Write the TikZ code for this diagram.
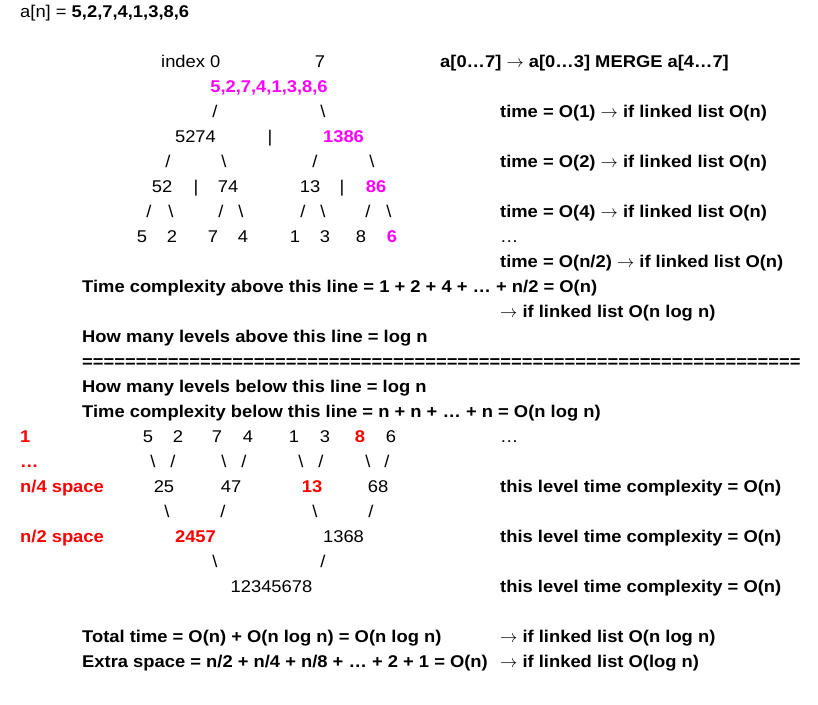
\documentclass[tikz,border=0pt]{standalone}
\usepackage{fontspec}
\setmainfont{Liberation Sans}[FakeStretch=1.08]
\definecolor{hotpink}{HTML}{FF00FF}
\definecolor{hotred}{HTML}{FF0000}
\newcommand{\fs}{\fontsize{17}{20}\selectfont}
\newcommand{\bsl}{\textbackslash}
\newcommand{\goesto}{$\rightarrow$}

\begin{document}
\begin{tikzpicture}[x=1pt, y=-1pt,
    txt/.style={anchor=base west, inner sep=0pt, font=\fs},
    btxt/.style={anchor=base west, inner sep=0pt, font=\fs\bfseries},
    rtxt/.style={anchor=base west, inner sep=0pt, font=\fs\bfseries, text=hotred},
    num/.style={anchor=base, inner sep=0pt, font=\fs},
    pnum/.style={anchor=base, inner sep=0pt, font=\fs\bfseries, text=hotpink},
    rnum/.style={anchor=base, inner sep=0pt, font=\fs\bfseries, text=hotred}
]
\useasboundingbox (0,0) rectangle (818,704);

% header
\node[txt] (arr) at (20,17) {a[n] = \textbf{5,2,7,4,1,3,8,6}};
\node[txt] (idx0) at (161,67) {index 0};
\node[num] (idx7) at (320,67) {7};
\node[btxt] (split) at (440,67) {a[0…7] \goesto{} a[0…3] MERGE a[4…7]};

% splitting tree
\node[pnum] (root) at (269,92) {5,2,7,4,1,3,8,6};
\node[num] (s1) at (215,117) {/};
\node[num] (s2) at (323,117) {\bsl};
\node[num] (L) at (195.5,142) {5274};
\node[num] (bar1) at (270,142) {|};
\node[pnum] (R) at (343.5,142) {1386};
\node[num] (s3) at (168,167) {/};
\node[num] (s4) at (224,167) {\bsl};
\node[num] (s5) at (315,167) {/};
\node[num] (s6) at (372,167) {\bsl};
\node[num] (LL) at (162,192) {52};
\node[num] (bar2) at (196,192) {|};
\node[num] (LR) at (228,192) {74};
\node[num] (RL) at (310,192) {13};
\node[num] (bar3) at (342,192) {|};
\node[pnum] (RR) at (376,192) {86};
\node[num] at (149,217) {/};
\node[num] at (171,217) {\bsl};
\node[num] at (221,217) {/};
\node[num] at (241,217) {\bsl};
\node[num] at (303,217) {/};
\node[num] at (323,217) {\bsl};
\node[num] at (368,217) {/};
\node[num] at (389,217) {\bsl};
\node[num] (a1) at (142,242) {5};
\node[num] (a2) at (172,242) {2};
\node[num] (a3) at (213,242) {7};
\node[num] (a4) at (243,242) {4};
\node[num] (a5) at (295,242) {1};
\node[num] (a6) at (325,242) {3};
\node[num] (a7) at (361,242) {8};
\node[pnum] (a8) at (392,242) {6};

% split costs
\node[btxt] (t1) at (500,117) {time = O(1) \goesto{} if linked list O(n)};
\node[btxt] (t2) at (500,167) {time = O(2) \goesto{} if linked list O(n)};
\node[btxt] (t4) at (500,217) {time = O(4) \goesto{} if linked list O(n)};
\node[txt] (tdots) at (500,242) {…};
\node[btxt] (tn) at (500,267) {time = O(n/2) \goesto{} if linked list O(n)};
\node[btxt] (above) at (82,292) {Time complexity above this line = 1 + 2 + 4 + … + n/2 = O(n)};
\node[btxt] (abovell) at (500,317) {\goesto{} if linked list O(n log n)};
\node[btxt] (lvabove) at (82,342) {How many levels above this line = log n};
\node[btxt] (rule) at (82,367) {===================================================================};
\node[btxt] (lvbelow) at (82,392) {How many levels below this line = log n};
\node[btxt] (below) at (82,417) {Time complexity below this line = n + n + … + n = O(n log n)};

% merging tree
\node[rtxt] (sp1) at (20,442) {1};
\node[num] (b1) at (148,442) {5};
\node[num] (b2) at (178,442) {2};
\node[num] (b3) at (217,442) {7};
\node[num] (b4) at (248,442) {4};
\node[num] (b5) at (294,442) {1};
\node[num] (b6) at (325,442) {3};
\node[rnum] (b7) at (360,442) {8};
\node[num] (b8) at (391,442) {6};
\node[txt] (mdots) at (500,442) {…};
\node[rtxt] (spdots) at (20,467) {…};
\node[num] at (153,467) {\bsl};
\node[num] at (173,467) {/};
\node[num] at (224,467) {\bsl};
\node[num] at (244,467) {/};
\node[num] at (301,467) {\bsl};
\node[num] at (321,467) {/};
\node[num] at (368,467) {\bsl};
\node[num] at (387,467) {/};
\node[rtxt] (sp4) at (20,492) {n/4 space};
\node[num] (m1) at (164,492) {25};
\node[num] (m2) at (231,492) {47};
\node[rnum] (m3) at (312,492) {13};
\node[num] (m4) at (378,492) {68};
\node[btxt] (c1) at (500,492) {this level time complexity = O(n)};
\node[num] at (167,517) {\bsl};
\node[num] at (223,517) {/};
\node[num] at (315,517) {\bsl};
\node[num] at (371,517) {/};
\node[rtxt] (sp2) at (20,542) {n/2 space};
\node[rnum] (h1) at (195.5,542) {2457};
\node[num] (h2) at (343.5,542) {1368};
\node[btxt] (c2) at (500,542) {this level time complexity = O(n)};
\node[num] at (215,567) {\bsl};
\node[num] at (323,567) {/};
\node[num] (sorted) at (271.5,592) {12345678};
\node[btxt] (c3) at (500,592) {this level time complexity = O(n)};

% totals
\node[btxt] (total) at (82,642) {Total time = O(n) + O(n log n) = O(n log n)};
\node[btxt] (totalll) at (500,642) {\goesto{} if linked list O(n log n)};
\node[btxt] (extra) at (82,667) {Extra space = n/2 + n/4 + n/8 + … + 2 + 1 = O(n)};
\node[btxt] (extrall) at (500,667) {\goesto{} if linked list O(log n)};
\end{tikzpicture}
\end{document}
